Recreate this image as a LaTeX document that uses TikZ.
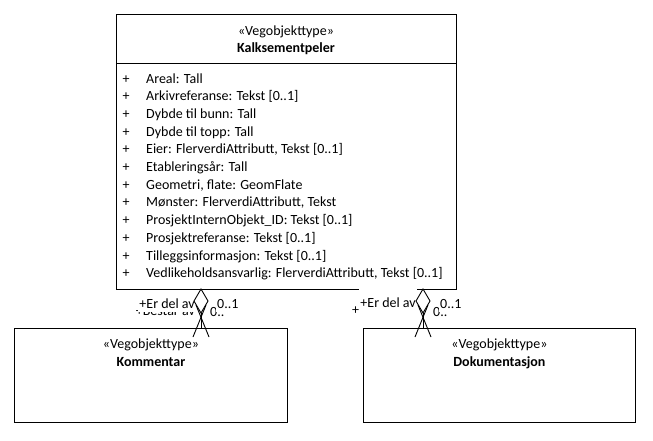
\documentclass[tikz,border=0pt]{standalone}
\usepackage{fontspec}
\setmainfont{Carlito}
\begin{document}
\begin{tikzpicture}[x=1pt,y=-1pt,
  font=\fontsize{14}{16}\selectfont,
  classbox/.style={draw, line width=0.9pt, fill=white, inner sep=0pt},
  txt/.style={inner sep=0pt},
  boldtxt/.style={inner sep=0pt, font=\fontsize{14}{16}\selectfont\bfseries},
  conn/.style={line width=0.9pt},
  rolelow/.style={inner sep=0pt},
  roletop/.style={fill=white, inner xsep=1pt, inner ysep=4pt}]
\useasboundingbox (0,0) rectangle (653,440);

% classes
\node[classbox, anchor=north west, minimum width=340pt, minimum height=275pt] (main) at (116,14) {};
\draw[conn] (main.north west) ++(0,49) coordinate (sepL) -- (sepL -| main.east);
\node[txt, anchor=base] (mainst) at (286,35) {«Vegobjekttype»};
\node[boldtxt, anchor=base] (mainname) at (286,52) {Kalksementpeler};
\foreach \t [count=\i from 0] in {%
  {Areal: Tall},
  {Arkivreferanse: Tekst [0..1]},
  {Dybde til bunn: Tall},
  {Dybde til topp: Tall},
  {Eier: FlerverdiAttributt, Tekst [0..1]},
  {Etableringsår: Tall},
  {Geometri, flate: GeomFlate},
  {Mønster: FlerverdiAttributt, Tekst},
  {ProsjektInternObjekt\_ID: Tekst [0..1]},
  {Prosjektreferanse: Tekst [0..1]},
  {Tilleggsinformasjon: Tekst [0..1]},
  {Vedlikeholdsansvarlig: FlerverdiAttributt, Tekst [0..1]}} {
  \node[txt, anchor=base] (plus\i) at (126,83+17.7*\i) {+};
  \node[txt, anchor=base west] (attr\i) at (146,83+17.7*\i) {\t};
}

\node[classbox, anchor=north west, minimum width=273pt, minimum height=94pt] (kom) at (14,328) {};
\node[txt, anchor=base] (komst) at (kom.north |- 0,348) {«Vegobjekttype»};
\node[boldtxt, anchor=base] (komname) at (kom.north |- 0,366) {Kommentar};

\node[classbox, anchor=north west, minimum width=272pt, minimum height=94pt] (dok) at (363,328) {};
\node[txt, anchor=base] (dokst) at (dok.north |- 0,348) {«Vegobjekttype»};
\node[boldtxt, anchor=base] (dokname) at (dok.north |- 0,366) {Dokumentasjon};

% role labels, left association pair
\node[rolelow, anchor=base east] (lbL2) at (195,315.5) {+Består av};
\node[rolelow, anchor=base west] (lmL2) at (210,316) {0..};
\node[roletop, anchor=base east] (lbL1) at (196,308) {+Er del av};
\node[roletop, anchor=base west] (lmL1) at (216,308) {0..1};

% role labels, right association pair
\node[rolelow, anchor=base west] (lbR2) at (352,314) {+Består av};
\node[rolelow, anchor=base west] (lmR2) at (433,316) {0..};
\node[roletop, anchor=base east, inner ysep=8pt] (lbR1) at (417,307) {+Er del av};
\node[roletop, anchor=base west] (lmR1) at (439,308) {0..1};

% aggregation connectors
\foreach \n/\x/\tg in {L/201/kom, R/423/dok} {
  \coordinate (d\n) at (\x,289);
  \draw[conn, fill=white] (d\n) -- ++(7,12) -- ++(-7,12) -- ++(-7,-12) -- cycle;
  \draw[conn] (d\n) ++(0,24) -- (d\n |- \tg.north);
  \draw[conn] (d\n) ++(-5,16) -- ++(13,32);
  \draw[conn] (d\n) ++(5,16) -- ++(-13,32);
}
\end{tikzpicture}
\end{document}
